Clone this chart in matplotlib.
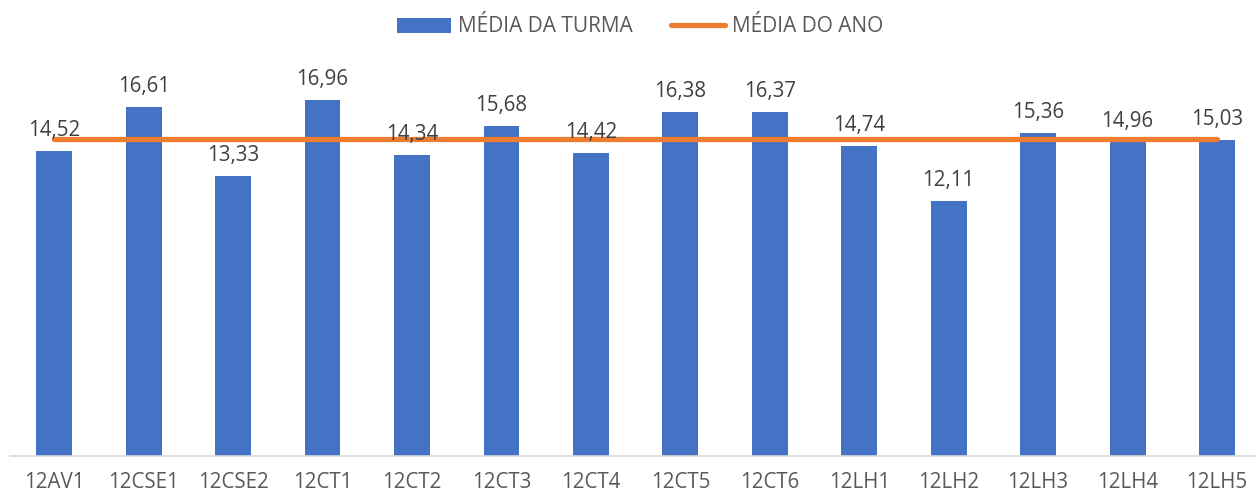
import matplotlib
matplotlib.use("Agg")
import matplotlib.pyplot as plt
from matplotlib.patches import Patch
from matplotlib.lines import Line2D

categorias = ["12AV1", "12CSE1", "12CSE2", "12CT1", "12CT2", "12CT3", "12CT4",
              "12CT5", "12CT6", "12LH1", "12LH2", "12LH3", "12LH4", "12LH5"]
media_turma = [14.52, 16.61, 13.33, 16.96, 14.34, 15.68, 14.42,
               16.38, 16.37, 14.74, 12.11, 15.36, 14.96, 15.03]
media_ano = [15.06] * len(categorias)

plt.rcParams['font.family'] = ['Open Sans', 'DejaVu Sans']

W, H = 1256, 496
fig = plt.figure(figsize=(W / 100, H / 100), dpi=100)
left_px, right_px = 9.5, 1256
base_px, top_px = 455.7, 35.7
ax = fig.add_axes([left_px / W, (H - base_px) / H,
                   (right_px - left_px) / W, (base_px - top_px) / H])

x = list(range(len(categorias)))
ax.bar(x, media_turma, width=0.4, color="#4472C4", zorder=2)
ax.plot(x, media_ano, color="#ED7D31", linewidth=3.8, solid_capstyle="round", zorder=3)

for xi, v in zip(x, media_turma):
    ax.annotate(f"{v:.2f}".replace(".", ","), (xi, v), xytext=(0, 15),
                textcoords="offset pixels", ha="center", va="baseline",
                fontsize=14.8, color="#404040", zorder=4)

ax.set_xlim(-0.5, -0.5 + (right_px - left_px) / 89.45)
ax.set_ylim(0, 20)
ax.set_xticks(x)
ax.set_xticklabels(categorias, fontsize=14.8, color="#595959")
ax.tick_params(axis="x", length=0, pad=12)
ax.set_yticks([])
for s in ["top", "right", "left"]:
    ax.spines[s].set_visible(False)
ax.spines["bottom"].set_color("#D9D9D9")
ax.spines["bottom"].set_linewidth(1.2)

handles = [Patch(facecolor="#4472C4", edgecolor="none"),
           Line2D([0], [0], color="#ED7D31", linewidth=3.8, solid_capstyle="round")]
leg = fig.legend(handles, ["MÉDIA DA TURMA", "MÉDIA DO ANO"], loc="center",
                 bbox_to_anchor=(640 / W, (H - 27) / H), ncol=2, frameon=False,
                 fontsize=15, handlelength=2.6, handleheight=0.75,
                 columnspacing=1.8, handletextpad=0.35)
for t in leg.get_texts():
    t.set_color("#595959")

fig.savefig("out.png", dpi=100)
